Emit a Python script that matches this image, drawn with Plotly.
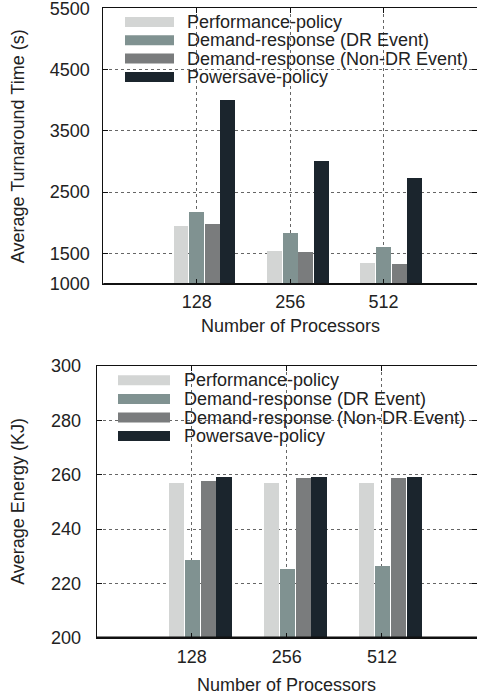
import plotly.graph_objects as go

# Processor counts on the x axis
processors = ["128", "256", "512"]

# Policy names and bar colours
policies = [
    "Performance-policy",
    "Demand-response (DR Event)",
    "Demand-response (Non-DR Event)",
    "Powersave-policy",
]
colors = ["#d3d5d4", "#809291", "#7a7c7d", "#1b252d"]

# Average turnaround time (s)
turn_perf = [1950, 1540, 1330]
turn_dr = [2175, 1820, 1605]
turn_nondr = [1980, 1520, 1325]
turn_save = [4000, 3005, 2725]

# Average energy (KJ)
energy_perf = [256.8, 256.8, 256.8]
energy_dr = [228.6, 225.3, 226.4]
energy_nondr = [257.7, 258.8, 258.8]
energy_save = [259.1, 259.1, 259.1]

W, H = 477, 698
FONT = "Liberation Sans, Arial, Helvetica, sans-serif"
TXT = "#222222"


def px(x):
    return min(max(x / W, 0.0), 1.0)


def py(y):
    return min(max(1 - y / H, 0.0), 1.0)


fig = go.Figure()

xpos = list(range(len(processors)))
bar_w = 0.16
step = 0.167
first = -0.245

top_series = [turn_perf, turn_dr, turn_nondr, turn_save]
bot_series = [energy_perf, energy_dr, energy_nondr, energy_save]

for i, (name, col) in enumerate(zip(policies, colors)):
    fig.add_trace(go.Bar(
        x=xpos, y=top_series[i], name=name, marker_color=col,
        marker_line_width=0, width=bar_w, offset=first + i * step,
        xaxis="x", yaxis="y", showlegend=False,
    ))
    fig.add_trace(go.Bar(
        x=xpos, y=bot_series[i], name=name, marker_color=col,
        marker_line_width=0, width=bar_w, offset=first + i * step,
        xaxis="x2", yaxis="y2", showlegend=False,
    ))

# plot-area pixel boxes: (left, top, right, bottom)
top_box = (103.3, 8.3, 477.0, 284.0)
bot_box = (96.7, 366.0, 477.0, 637.7)

common_x = dict(
    range=[-1, 3], tickvals=xpos, ticktext=processors,
    showgrid=True, griddash="dot", gridcolor="#666666", gridwidth=1,
    showline=True, linecolor="#111111", linewidth=1, mirror="ticks",
    ticks="inside", ticklen=5, tickcolor="#111111",
    tickfont=dict(family=FONT, size=18, color=TXT),
    zeroline=False, fixedrange=True, automargin=False,
    ticklabeloverflow="allow",
)
common_y = dict(
    showgrid=True, griddash="dot", gridcolor="#666666", gridwidth=1,
    showline=True, linecolor="#111111", linewidth=1, mirror="ticks",
    ticks="inside", ticklen=5, tickcolor="#111111",
    tickfont=dict(family=FONT, size=18, color=TXT),
    zeroline=False, fixedrange=True, automargin=False,
    ticklabeloverflow="allow",
)

fig.update_layout(
    width=W, height=H,
    margin=dict(l=0, r=0, t=0, b=0, pad=0, autoexpand=False),
    paper_bgcolor="white", plot_bgcolor="white",
    barmode="overlay", bargap=0,
    font=dict(family=FONT, size=18, color=TXT),
    xaxis=dict(common_x, domain=[px(top_box[0]), px(top_box[2])],
               anchor="y", ticklabelstandoff=1),
    yaxis=dict(common_y, domain=[py(top_box[3]), py(top_box[1])],
               anchor="x", range=[1000, 5500],
               tickvals=[1000, 1500, 2500, 3500, 4500, 5500],
               ticklabelstandoff=9),
    xaxis2=dict(common_x, domain=[px(bot_box[0]), px(bot_box[2])],
                anchor="y2", ticklabelstandoff=3),
    yaxis2=dict(common_y, domain=[py(bot_box[3]), py(bot_box[1])],
                anchor="x2", range=[200, 300],
                tickvals=[200, 220, 240, 260, 280, 300],
                ticklabelstandoff=11),
)

shapes = []
annotations = []


def add_panel(box, legend_left, legend_bottom, swatch_x0, swatch_x1,
              text_x, row0, pitch, ytitle, xtitle_y):
    left, top, right, bottom = box
    # white key area hiding the grid behind the legend
    shapes.append(dict(type="rect", xref="paper", yref="paper",
                       x0=px(legend_left), x1=px(right - 5),
                       y0=py(legend_bottom), y1=py(top + 1),
                       fillcolor="white", line_width=0, layer="between"))
    # heavier baseline along the x axis
    shapes.append(dict(type="line", xref="paper", yref="paper",
                       x0=px(left), x1=px(right), y0=py(bottom), y1=py(bottom),
                       line=dict(color="#111111", width=2.2), layer="above"))
    for i, (name, col) in enumerate(zip(policies, colors)):
        yc = row0 + i * pitch
        shapes.append(dict(type="rect", xref="paper", yref="paper",
                           x0=px(swatch_x0), x1=px(swatch_x1),
                           y0=py(yc + 5), y1=py(yc - 5),
                           fillcolor=col, line_width=0, layer="above"))
        annotations.append(dict(text=name, xref="paper", yref="paper",
                                x=px(text_x), y=py(yc), xanchor="left",
                                yanchor="middle", showarrow=False,
                                font=dict(family=FONT, size=18, color=TXT)))
    annotations.append(dict(text=ytitle, xref="paper", yref="paper",
                            x=px(18), y=py((top + bottom) / 2), textangle=-90,
                            xanchor="center", yanchor="middle", showarrow=False,
                            font=dict(family=FONT, size=18, color=TXT)))
    annotations.append(dict(text="Number of Processors", xref="paper",
                            yref="paper", x=px((left + right) / 2),
                            y=py(xtitle_y), xanchor="center", yanchor="middle",
                            showarrow=False,
                            font=dict(family=FONT, size=18, color=TXT)))


add_panel(top_box, 112, 88, 125, 174, 185, 22.0, 18.3,
          "Average Turnaround Time (s)", 326)
add_panel(bot_box, 108, 446, 118, 170, 181.7, 380.3, 18.6,
          "Average Energy (KJ)", 685)

fig.update_layout(shapes=shapes, annotations=annotations)

fig.write_html("out.html")
